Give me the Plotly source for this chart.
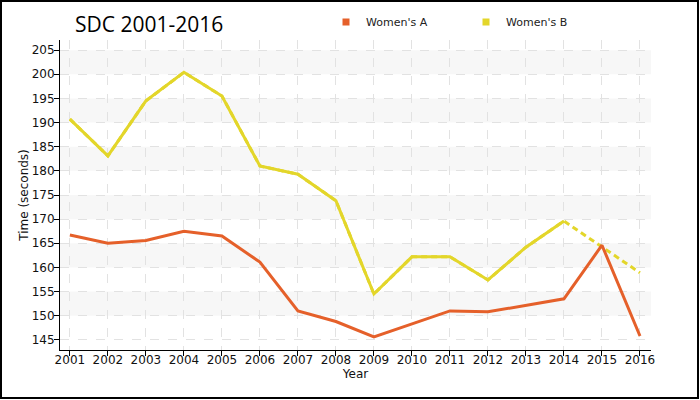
import plotly.graph_objects as go

years = list(range(2001, 2017))
womens_a = [166.7, 165.0, 165.6, 167.5, 166.5, 161.1, 151.0, 148.8, 145.6, 148.3, 151.0, 150.8, 152.2, 153.5, 164.6, 145.8]
womens_b = [190.7, 183.1, 194.5, 200.4, 195.5, 181.0, 179.3, 173.8, 154.5, 162.2, 162.2, 157.4, 164.2, 169.6, None, 158.9]
series_names = ["Women's A", "Women's B"]
colors = ["#e5602a", "#e3d62a"]
y_ticks = list(range(145, 210, 5))

tick_font = dict(family="DejaVu Sans", size=12, color="#111")

fig = go.Figure()

# dashed gap connector for series B (drawn beneath)
fig.add_trace(go.Scatter(x=years, y=womens_b, mode="lines", connectgaps=True,
                         line=dict(color=colors[1], width=3, dash="6px,4px"),
                         showlegend=False, hoverinfo="skip"))
fig.add_trace(go.Scatter(x=years, y=womens_b, mode="lines", connectgaps=False,
                         line=dict(color=colors[1], width=3), showlegend=False))
fig.add_trace(go.Scatter(x=years, y=womens_a, mode="lines",
                         line=dict(color=colors[0], width=3), showlegend=False))

# legend entries with square swatches
for name, c in zip(series_names, colors):
    fig.add_trace(go.Scatter(x=[None], y=[None], mode="markers", name=name,
                             marker=dict(symbol="square", size=7, color=c)))

# alternating bands
shapes = []
for t in y_ticks[:-1]:
    if (t // 5) % 2 == 0:
        shapes.append(dict(type="rect", xref="paper", yref="y", x0=0, x1=1,
                           y0=t, y1=t + 5, fillcolor="#f7f7f7", line_width=0, layer="below"))
# outer border
shapes.append(dict(type="rect", xref="paper", yref="paper",
                   x0=-59 / 591, x1=638 / 591, y0=-48 / 310, y1=349 / 310,
                   line=dict(color="black", width=2), fillcolor="rgba(0,0,0,0)"))

fig.update_layout(
    width=700, height=400,
    margin=dict(l=60, r=49, t=40, b=50),
    paper_bgcolor="white", plot_bgcolor="white",
    shapes=shapes,
    title=dict(text="SDC 2001-2016", x=75 / 700, xanchor="left", y=1 - 25 / 400, yanchor="middle",
               font=dict(family="Open Sans", size=21, color="black")),
    legend=dict(orientation="h", x=326 / 700, xref="container", y=1 - 22 / 400, yref="container",
                xanchor="left", yanchor="middle",
                font=dict(family="DejaVu Sans", size=11, color="#222"),
                itemwidth=30, entrywidth=95, tracegroupgap=0, bgcolor="rgba(0,0,0,0)"),
    xaxis=dict(range=[2000.74, 2016.29], tickmode="array", tickvals=years,
               ticktext=[str(y) for y in years], showline=True, linecolor="black", linewidth=1,
               ticks="outside", ticklen=5, tickcolor="black", tickfont=tick_font,
               ticklabelstandoff=-6,
               showgrid=True, gridcolor="#e2e2e2", griddash="dash", gridwidth=1, zeroline=False,
               automargin=False,
               title=dict(text="Year", font=dict(family="DejaVu Sans", size=12, color="#111"), standoff=0)),
    yaxis=dict(range=[142.9, 207.1], tickmode="array", tickvals=y_ticks,
               showline=True, linecolor="black", linewidth=1,
               ticks="outside", ticklen=5, tickcolor="black", tickfont=tick_font,
               ticklabelstandoff=-3,
               showgrid=True, gridcolor="#e2e2e2", griddash="dash", gridwidth=1, zeroline=False,
               automargin=False,
               title=dict(text="Time (seconds)", font=dict(family="DejaVu Sans", size=12, color="#111"), standoff=0)),
)

fig.write_html("out.html", config={"displayModeBar": False},
               post_script="document.body.style.margin='0';")
